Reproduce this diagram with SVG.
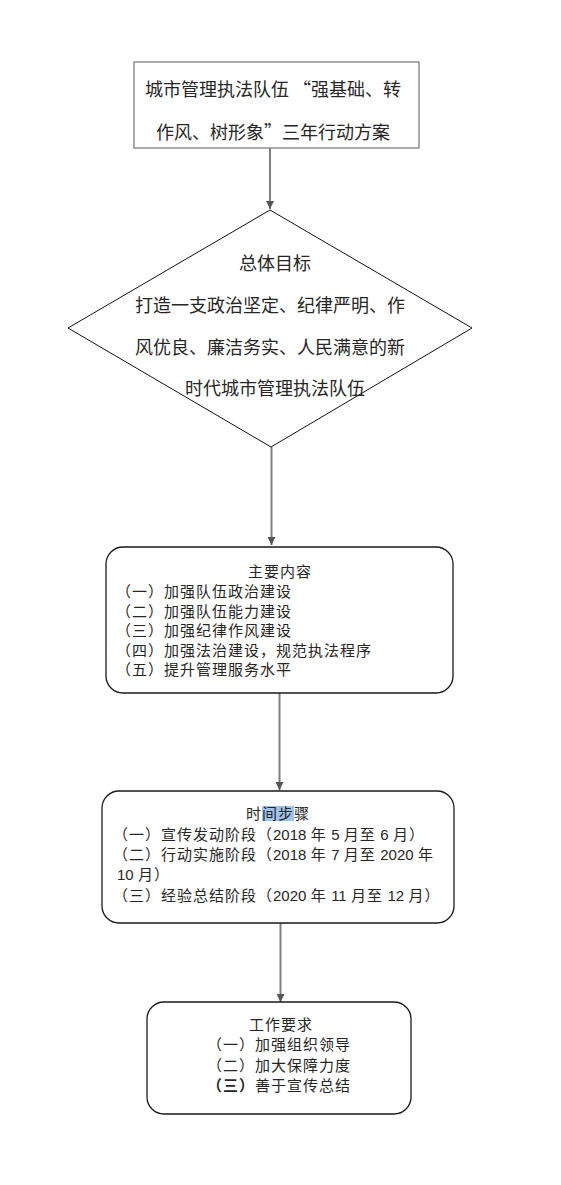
<svg xmlns="http://www.w3.org/2000/svg" width="561" height="1185" viewBox="0 0 561 1185">
<style>
text{font-family:"Noto Sans CJK SC","Liberation Sans",sans-serif;fill:#262626}
.t18{font-size:18px}
.t16{font-size:15px;letter-spacing:1px}
.num{font-family:"Liberation Sans","Noto Sans CJK SC",sans-serif;letter-spacing:0}
.box{fill:#fff;stroke:#1a1a1a;stroke-width:1.3}
.conn{stroke:#7f7f7f;stroke-width:2;fill:none}
</style>
<defs>
<marker id="ah" markerUnits="userSpaceOnUse" markerWidth="9" markerHeight="8" refX="8" refY="4" orient="auto">
<path d="M0,0 L8,4 L0,8 z" fill="#555"/>
</marker>
</defs>
<rect width="561" height="1185" fill="#fff"/>
<g id="connectors">
<line class="conn" x1="270" y1="148" x2="270" y2="209" marker-end="url(#ah)"/>
<line class="conn" x1="271.5" y1="447" x2="271.5" y2="545" marker-end="url(#ah)"/>
<line class="conn" x1="279.5" y1="693" x2="279.5" y2="790" marker-end="url(#ah)"/>
<line class="conn" x1="280.5" y1="923" x2="280.5" y2="1002" marker-end="url(#ah)"/>
</g>
<g id="title">
<rect x="134" y="62" width="285" height="86" fill="#fff" stroke="#808080" stroke-width="1.3"/>
<text class="t18" x="145" y="96">城市管理执法队伍 “强基础、转</text>
<text class="t18" x="156" y="139">作风、树形象”三年行动方案</text>
</g>
<g id="goal">
<polygon points="270,210 472,328 271,447 68,328" fill="#fff" stroke="#111" stroke-width="1"/>
<text class="t18" x="275" y="270" text-anchor="middle">总体目标</text>
<text class="t18" x="135" y="312">打造一支政治坚定、纪律严明、作</text>
<text class="t18" x="135" y="354">风优良、廉洁务实、人民满意的新</text>
<text class="t18" x="275" y="395" text-anchor="middle">时代城市管理执法队伍</text>
</g>
<g id="content">
<rect class="box" x="106" y="547" width="347" height="146" rx="17"/>
<text class="t16" x="280" y="577" text-anchor="middle">主要内容</text>
<text class="t16" x="116" y="597">（一）加强队伍政治建设</text>
<text class="t16" x="116" y="616.5">（二）加强队伍能力建设</text>
<text class="t16" x="116" y="636">（三）加强纪律作风建设</text>
<text class="t16" x="116" y="655.5">（四）加强法治建设，规范执法程序</text>
<text class="t16" x="116" y="675">（五）提升管理服务水平</text>
</g>
<g id="schedule">
<rect class="box" x="102" y="791" width="352" height="132" rx="17"/>
<rect x="262" y="806" width="32" height="15" fill="#9dc3e6"/>
<text class="t16" x="278" y="819" text-anchor="middle">时间步骤</text>
<text class="t16" x="113" y="840">（一）宣传发动阶段（<tspan class="num">2018</tspan> 年 <tspan class="num">5</tspan> 月至 <tspan class="num">6</tspan> 月）</text>
<text class="t16" x="113" y="860">（二）行动实施阶段（<tspan class="num">2018</tspan> 年 <tspan class="num">7</tspan> 月至 <tspan class="num">2020</tspan> 年</text>
<text class="t16" x="117" y="880"><tspan class="num">10</tspan> 月）</text>
<text class="t16" x="113" y="901">（三）经验总结阶段（<tspan class="num">2020</tspan> 年 <tspan class="num">11</tspan> 月至 <tspan class="num">12</tspan> 月）</text>
</g>
<g id="requirements">
<rect class="box" x="147" y="1002" width="264" height="112" rx="17"/>
<text class="t16" x="281" y="1030" text-anchor="middle">工作要求</text>
<text class="t16" x="207" y="1050">（一）加强组织领导</text>
<text class="t16" x="207" y="1071">（二）加大保障力度</text>
<text class="t16" x="207" y="1091"><tspan font-weight="bold">（三）</tspan>善于宣传总结</text>
</g>
</svg>
